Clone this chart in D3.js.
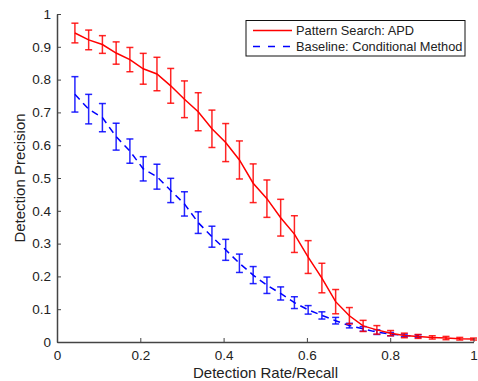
<!DOCTYPE html>
<html><head><meta charset="utf-8">
<script src="https://cdn.jsdelivr.net/npm/d3@7"></script>
<style>body{margin:0;background:#fff}svg{display:block}text{font-family:"Liberation Sans",Arial,sans-serif}</style>
</head><body><svg id="c" width="478" height="381"></svg>
<script>
const recall = [0.043,0.076,0.109,0.142,0.175,0.207,0.240,0.273,0.306,0.339,0.372,0.405,0.438,0.471,0.504,0.537,0.570,0.603,0.636,0.669,0.702,0.735,0.768,0.801,0.834,0.867,0.901,0.934,0.967,1.0];
const apdPrecision = [0.942,0.921,0.907,0.881,0.861,0.833,0.817,0.781,0.740,0.702,0.650,0.608,0.555,0.484,0.437,0.379,0.329,0.259,0.195,0.123,0.080,0.049,0.037,0.027,0.020,0.017,0.014,0.012,0.010,0.009];
const apdError = [0.030,0.030,0.027,0.034,0.037,0.047,0.051,0.053,0.056,0.058,0.057,0.058,0.058,0.059,0.057,0.056,0.056,0.050,0.045,0.037,0.025,0.017,0.013,0.008,0.007,0.006,0.005,0.005,0.004,0.003];
const basePrecision = [0.755,0.710,0.684,0.626,0.582,0.528,0.504,0.462,0.421,0.364,0.321,0.281,0.240,0.204,0.173,0.148,0.120,0.098,0.081,0.065,0.050,0.040,0.030,0.024,0.020,0.018];
const baseError = [0.054,0.045,0.043,0.041,0.037,0.037,0.038,0.037,0.037,0.033,0.032,0.032,0.028,0.026,0.025,0.020,0.018,0.013,0.011,0.010,0.007,0.007,0.007,0.005,0.004,0.004];
const xTicks = [0,0.2,0.4,0.6,0.8,1];
const yTicks = [0,0.1,0.2,0.3,0.4,0.5,0.6,0.7,0.8,0.9,1];
const seriesNames = ["Pattern Search: APD","Baseline: Conditional Method"];
const xTitle = "Detection Rate/Recall", yTitle = "Detection Precision";

const svg = d3.select("#c");
const x = d3.scaleLinear().domain([0,1]).range([57,473.5]);
const y = d3.scaleLinear().domain([0,1]).range([342,14]);
const axisColor = "#444";

function drawSeries(xs, ys, es, color, dash){
  const pts = ys.map((v,i)=>({x:xs[i], y:v, e:es[i]}));
  const g = svg.append("g");
  g.append("path").datum(pts)
    .attr("d", d3.line().x(d=>x(d.x)).y(d=>y(d.y)))
    .attr("fill","none").attr("stroke",color).attr("stroke-width",1.5)
    .attr("stroke-dasharray", dash || null);
  const eb = g.selectAll("g.eb").data(pts).join("g").attr("stroke",color).attr("stroke-width",1.5).attr("stroke-opacity",0.85);
  eb.append("line").attr("x1",d=>x(d.x)).attr("x2",d=>x(d.x)).attr("y1",d=>y(d.y+d.e)).attr("y2",d=>y(d.y-d.e));
  eb.append("line").attr("x1",d=>x(d.x)-3.5).attr("x2",d=>x(d.x)+3.5).attr("y1",d=>y(d.y+d.e)).attr("y2",d=>y(d.y+d.e));
  eb.append("line").attr("x1",d=>x(d.x)-3.5).attr("x2",d=>x(d.x)+3.5).attr("y1",d=>y(d.y-d.e)).attr("y2",d=>y(d.y-d.e));
}
drawSeries(recall, basePrecision, baseError, "#0000ff", "7,5");
drawSeries(recall, apdPrecision, apdError, "#ff0000", null);

// axes
const xa = svg.append("g").attr("transform",`translate(0,${y(0)})`)
  .call(d3.axisBottom(x).tickValues(xTicks).tickFormat(d3.format("~g")).tickSizeInner(-4).tickSizeOuter(0).tickPadding(8));
const ya = svg.append("g").attr("transform",`translate(${x(0)},0)`)
  .call(d3.axisLeft(y).tickValues(yTicks).tickFormat(d3.format("~g")).tickSizeInner(-4).tickSizeOuter(0).tickPadding(6));
[xa,ya].forEach(a=>{
  a.selectAll("path").attr("stroke",axisColor).attr("stroke-width",1.5);
  a.selectAll("line").attr("stroke",axisColor).attr("stroke-width",1);
  a.selectAll("text").attr("font-size",13.5).attr("fill","#222").attr("font-family","Liberation Sans, Arial, sans-serif");
});

svg.append("text").attr("x",265.5).attr("y",378).attr("text-anchor","middle").attr("font-size",15).attr("fill","#222").text(xTitle);
svg.append("text").attr("transform","translate(25,178) rotate(-90)").attr("text-anchor","middle").attr("font-size",15).attr("fill","#222").text(yTitle);

// legend
const lg = svg.append("g");
lg.append("rect").attr("x",246).attr("y",20.5).attr("width",219).attr("height",35.5).attr("fill","#fff").attr("stroke","#111").attr("stroke-width",1);
const colors = ["#ff0000","#0000ff"], dashes=[null,"7,8"];
seriesNames.forEach((n,i)=>{
  const cy = 30.5 + i*16;
  lg.append("line").attr("x1",253).attr("x2",292).attr("y1",cy).attr("y2",cy).attr("stroke",colors[i]).attr("stroke-width",1.5).attr("stroke-dasharray",dashes[i]);
  lg.append("text").attr("x",296).attr("y",cy+4.5).attr("font-size",12.8).attr("fill","#222").text(n);
});
</script></body></html>
